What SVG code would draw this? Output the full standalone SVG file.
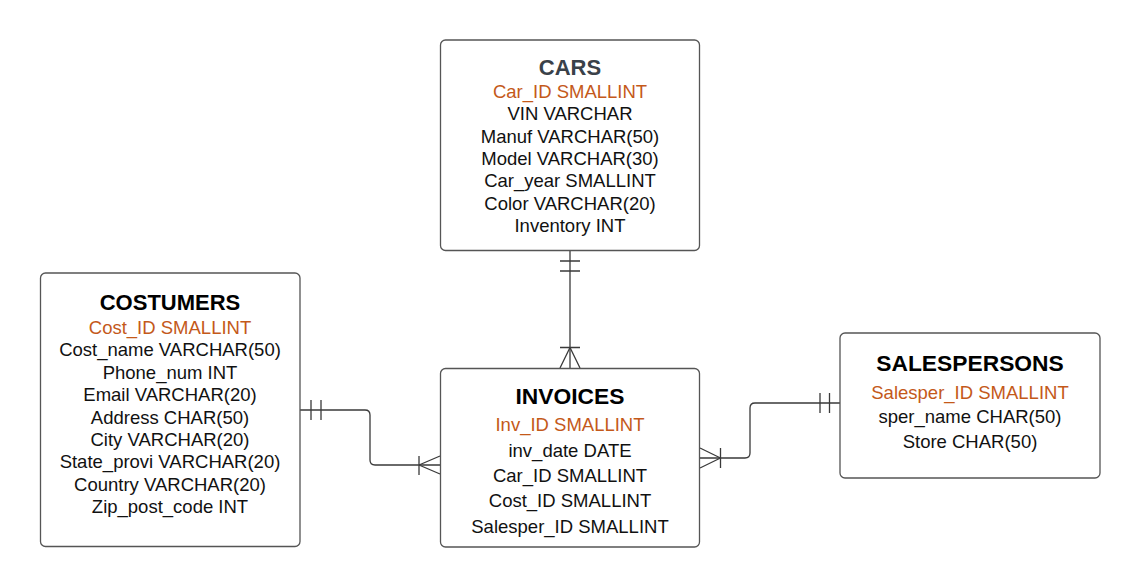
<svg xmlns="http://www.w3.org/2000/svg" width="1140" height="588" viewBox="0 0 1140 588">
<style>
.box{fill:#fff;stroke:#555;stroke-width:1.3}
.t{font-family:"Liberation Sans",Arial,sans-serif;font-weight:bold;text-anchor:middle;fill:#000}
.f{font-family:"Liberation Sans",Arial,sans-serif;font-size:18.5px;text-anchor:middle;fill:#111}
.pk{fill:#c4591a}
.c{fill:none;stroke:#3a3a3a;stroke-width:1.3}
</style>
<rect width="1140" height="588" fill="#fff"/>
<g id="connectors">
<path class="c" d="M300,410 H365 Q370,410 370,415 V460 Q370,465 375,465 H440"/>
<path class="c" d="M311,400 V420 M321,400 V420"/>
<path class="c" d="M419,456 V475 M419,465 L440,456 M419,465 L440,474"/>
<path class="c" d="M700,458 H745 Q750,458 750,453 V408 Q750,403 755,403 H840"/>
<path class="c" d="M820,393 V413 M829.5,393 V413"/>
<path class="c" d="M720.5,448 V468 M720.5,458 L700,448 M720.5,458 L700,468"/>
<path class="c" d="M570,251 V368"/>
<path class="c" d="M560,261 H580 M560,271 H580"/>
<path class="c" d="M560,347.5 H580 M570,347.5 L560,368 M570,347.5 L580,368"/>
</g>
<g id="cars">
<rect class="box" x="440.5" y="40" width="259" height="210.5" rx="5"/>
<text class="t" x="570" y="75" font-size="22" style="fill:#3a4149">CARS</text>
<text class="f pk" x="570" y="97.7">Car_ID SMALLINT</text>
<text class="f" x="570" y="120.1">VIN VARCHAR</text>
<text class="f" x="570" y="142.5">Manuf VARCHAR(50)</text>
<text class="f" x="570" y="164.9">Model VARCHAR(30)</text>
<text class="f" x="570" y="187.3">Car_year SMALLINT</text>
<text class="f" x="570" y="209.7">Color VARCHAR(20)</text>
<text class="f" x="570" y="232.1">Inventory INT</text>
</g>
<g id="costumers">
<rect class="box" x="40.5" y="273" width="259.5" height="273.5" rx="5"/>
<text class="t" x="170" y="310" font-size="22">COSTUMERS</text>
<text class="f pk" x="170" y="334">Cost_ID SMALLINT</text>
<text class="f" x="170" y="356.4">Cost_name VARCHAR(50)</text>
<text class="f" x="170" y="378.8">Phone_num INT</text>
<text class="f" x="170" y="401.1">Email VARCHAR(20)</text>
<text class="f" x="170" y="423.5">Address CHAR(50)</text>
<text class="f" x="170" y="445.9">City VARCHAR(20)</text>
<text class="f" x="170" y="468.3">State_provi VARCHAR(20)</text>
<text class="f" x="170" y="490.6">Country VARCHAR(20)</text>
<text class="f" x="170" y="513">Zip_post_code INT</text>
</g>
<g id="invoices">
<rect class="box" x="440.5" y="368.5" width="259" height="178.5" rx="5"/>
<text class="t" x="570" y="403.7" font-size="22.8">INVOICES</text>
<text class="f pk" x="570" y="431.3">Inv_ID SMALLINT</text>
<text class="f" x="570" y="457.2">inv_date DATE</text>
<text class="f" x="570" y="482.3">Car_ID SMALLINT</text>
<text class="f" x="570" y="507.2">Cost_ID SMALLINT</text>
<text class="f" x="570" y="532.8">Salesper_ID SMALLINT</text>
</g>
<g id="salespersons">
<rect class="box" x="840" y="333" width="260" height="145" rx="5"/>
<text class="t" x="970" y="370.7" font-size="22.8">SALESPERSONS</text>
<text class="f pk" x="970" y="399">Salesper_ID SMALLINT</text>
<text class="f" x="970" y="423">sper_name CHAR(50)</text>
<text class="f" x="970" y="448">Store CHAR(50)</text>
</g>
</svg>
